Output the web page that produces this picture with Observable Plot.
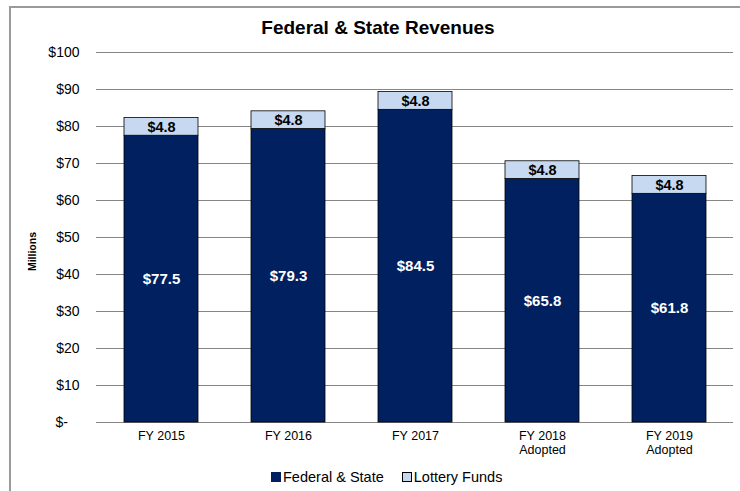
<!DOCTYPE html>
<html>
<head>
<meta charset="utf-8">
<script src="https://cdn.jsdelivr.net/npm/d3@7"></script>
<script src="https://cdn.jsdelivr.net/npm/@observablehq/plot@0.6"></script>
<style>
  body { margin: 0; background: #fff; font-family: "Liberation Sans", Arial, sans-serif; }
  #wrap { position: relative; width: 740px; height: 491px; overflow: hidden; background: #fff; }
  #frame { position: absolute; left: 9px; top: 6px; width: 760px; height: 600px; border: 2px solid #9a9a9a; box-sizing: border-box; }
  #title { position: absolute; top: 17px; left: 0; width: 756px; text-align: center; font-weight: bold; font-size: 19px; color: #000; z-index: 2; }
  #chart { position: absolute; left: 0; top: 0; z-index: 1; }
  #legend { position: absolute; top: 469px; left: 271px; font-size: 14.5px; color: #000; z-index: 2; display: flex; align-items: center; white-space: nowrap; }
  #legend .sw { display: inline-block; width: 8px; height: 8px; border: 1px solid #000; margin-right: 2px; }
  #legend .item { display: inline-flex; align-items: center; margin-right: 18px; }
</style>
</head>
<body>
<div id="wrap">
  <div id="frame"></div>
  <div id="title">Federal &amp; State Revenues</div>
  <div id="chart"></div>
  <div id="legend"></div>
</div>
<script>
const years = ["FY 2015", "FY 2016", "FY 2017", "FY 2018\nAdopted", "FY 2019\nAdopted"];
const federal = [77.5, 79.3, 84.5, 65.8, 61.8];
const lottery = [4.8, 4.8, 4.8, 4.8, 4.8];
const series = ["Federal & State", "Lottery Funds"];
const colors = ["#002060", "#C6D9F1"];
const yTicks = [0, 10, 20, 30, 40, 50, 60, 70, 80, 90, 100];

const rows = [];
years.forEach((y, i) => {
  rows.push({year: y, series: series[0], value: federal[i]});
  rows.push({year: y, series: series[1], value: lottery[i]});
});
const labels = years.map((y, i) => ({year: y, fed: federal[i], lot: lottery[i]}));

const chart = Plot.plot({
  width: 740,
  height: 491,
  marginLeft: 96,
  marginRight: 7,
  marginTop: 52,
  marginBottom: 69,
  style: {fontFamily: "'Liberation Sans', Arial, sans-serif", background: "transparent", color: "#000"},
  x: {domain: years, paddingInner: 0.42, paddingOuter: 0.21, label: null},
  y: {domain: [0, 100], label: null},
  color: {domain: series, range: colors},
  marks: [
    Plot.gridY(yTicks, {stroke: "#868686", strokeOpacity: 1, strokeWidth: 1}),
    Plot.axisY(yTicks, {tickSize: 0, tickPadding: 17, fontSize: 14, label: null,
      tickFormat: d => d === 0 ? "$-\u00a0\u00a0\u00a0" : "$" + d}),
    Plot.axisX({tickSize: 0, tickPadding: 8, fontSize: 12.5, lineHeight: 1.12, label: null}),
    Plot.barY(rows, {x: "year", y: "value", fill: "series", stroke: "#000", strokeWidth: 0.8}),
    Plot.text(labels, {x: "year", y: d => d.fed / 2, text: d => "$" + d.fed.toFixed(1),
      fill: "#fff", fontWeight: "bold", fontSize: 15}),
    Plot.text(labels, {x: "year", y: d => d.fed + d.lot / 2, text: d => "$" + d.lot.toFixed(1),
      fill: "#000", fontWeight: "bold", fontSize: 14.5}),
    Plot.text(["Millions"], {frameAnchor: "left", textAnchor: "middle", dx: -64, dy: 14, rotate: -90,
      fontWeight: "bold", fontSize: 10.5, fill: "#000"})
  ]
});
document.getElementById("chart").appendChild(chart);

const legend = document.getElementById("legend");
series.forEach((s, i) => {
  const item = document.createElement("span");
  item.className = "item";
  const sw = document.createElement("span");
  sw.className = "sw";
  sw.style.background = colors[i];
  if (i === 0) sw.style.borderColor = colors[i];
  item.appendChild(sw);
  item.appendChild(document.createTextNode(s));
  legend.appendChild(item);
});
</script>
</body>
</html>
